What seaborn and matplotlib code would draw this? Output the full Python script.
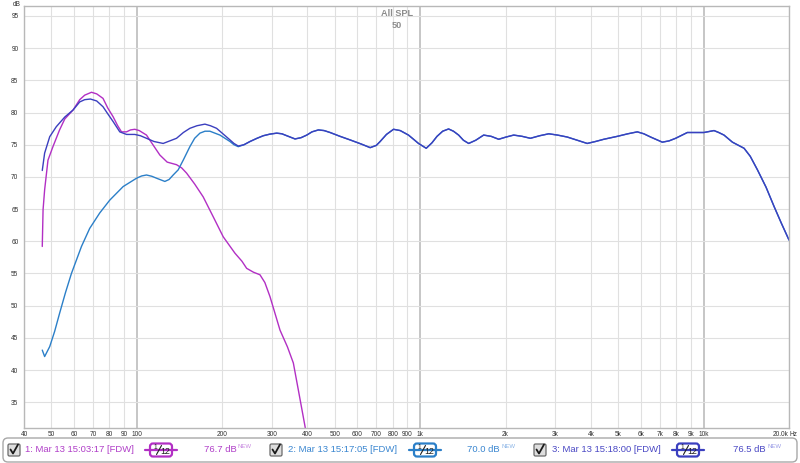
import matplotlib
matplotlib.use("Agg")
import matplotlib.pyplot as plt
import pandas as pd
import seaborn as sns
from matplotlib.patches import FancyBboxPatch

m1_freq = [46.4, 46.7, 47.3, 48.6, 50.6, 53.4, 55.7, 59.6, 62.9, 65.5, 69.2, 72.2, 76.0,
           79.0, 82.5, 85.5, 88.3, 92.0, 95.0, 98.4, 102.0, 108.2, 114.0, 120.6, 128.0,
           138.1, 144.0, 149.8, 160.0, 171.5, 186.1, 201.8, 222.0, 235.0, 244.1, 258.0,
           272.0, 283.0, 295.1, 320.1, 340.0, 356.7, 371.5, 392.4, 402.0]
m1_spl = [59.2, 64.9, 68.0, 72.6, 74.7, 77.3, 79.0, 80.4, 82.0, 82.7, 83.15, 82.9, 82.2,
          80.7, 79.35, 78.0, 77.0, 77.0, 77.3, 77.4, 77.2, 76.5, 75.0, 73.4, 72.3,
          71.9, 71.4, 70.6, 68.9, 66.9, 63.8, 60.7, 58.15, 56.9, 55.8, 55.2,
          54.8, 53.6, 51.4, 46.2, 43.6, 41.1, 36.9, 31.2, 28.3]

m2_freq = [46.4, 47.3, 49.3, 51.3, 53.4, 56.0, 58.8, 63.8, 68.2, 74.0, 80.3, 89.5, 99.8,
           104.0, 108.2, 113.0, 117.4, 125.6, 130.0, 134.4, 140.0, 145.8, 153.9, 160.0,
           167.0, 174.0, 181.1, 196.5, 213.2, 220.2, 228.0]
m2_spl = [43.1, 42.1, 43.65, 46.0, 48.8, 52.0, 55.0, 59.2, 62.0, 64.4, 66.4, 68.5, 69.8,
          70.15, 70.3, 70.1, 69.8, 69.3, 69.6, 70.3, 71.1, 72.6, 74.7, 76.0,
          76.8, 77.1, 77.1, 76.5, 75.5, 75.0, 74.7]

m3_freq = [46.4, 47.3, 49.3, 52.0, 55.7, 59.6, 62.9, 65.5, 68.6, 72.2, 76.0, 79.0, 82.5,
           87.1, 92.0, 98.4, 103.0, 108.2, 115.0, 123.9, 130.8, 138.1, 146.0, 153.9, 163.0,
           173.9, 182.0, 191.2, 201.3, 213.2, 220.2, 228.0, 238.8, 250.8, 265.5, 279.5,
           295.0, 311.7, 325.0, 338.1, 361.6, 380.0, 397.8, 415.0, 437.1, 458.0, 480.8,
           521.6, 565.6, 620.0, 665.8, 700.0, 722.0, 760.0, 805.0, 850.0, 909.0, 950.0,
           986.0, 1050, 1100, 1146, 1200, 1259, 1310, 1366, 1420, 1482, 1570, 1674, 1780,
           1891, 2010, 2137, 2290, 2447, 2640, 2841, 3050, 3299, 3580, 3882, 4150, 4444,
           4955, 5400, 5832, 6150, 6496, 7146, 7550, 7962, 8758, 9400, 10024, 10875, 11300,
           11795, 12630, 13884, 14600, 15478, 16600, 17719, 18800, 20000]
m3_spl = [71.0, 73.7, 76.25, 77.8, 79.3, 80.4, 81.65, 82.0, 82.1, 81.8, 80.9, 79.8, 78.6,
          77.0, 76.6, 76.6, 76.4, 76.0, 75.5, 75.2, 75.6, 76.0, 76.9, 77.55, 77.95,
          78.2, 77.95, 77.55, 76.7, 75.75, 75.2, 74.8, 75.0, 75.5, 76.0, 76.4,
          76.65, 76.8, 76.7, 76.4, 75.9, 76.1, 76.5, 77.0, 77.3, 77.2, 76.9,
          76.3, 75.75, 75.1, 74.55, 74.9, 75.5, 76.6, 77.4, 77.2, 76.5, 75.8,
          75.2, 74.45, 75.3, 76.3, 77.1, 77.45, 77.1, 76.5, 75.7, 75.2, 75.7, 76.5, 76.3,
          75.85, 76.2, 76.5, 76.3, 76.0, 76.4, 76.7, 76.5, 76.2, 75.7, 75.2, 75.5, 75.85,
          76.3, 76.7, 77.0, 76.7, 76.2, 75.4, 75.6, 76.0, 76.9, 76.9, 76.9, 77.2, 76.9,
          76.5, 75.4, 74.45, 73.2, 71.1, 68.4, 65.4, 62.8, 60.2]

names = ["1: Mar 13 15:03:17 [FDW]", "2: Mar 13 15:17:05 [FDW]", "3: Mar 13 15:18:00 [FDW]"]
averages = ["76.7 dB", "70.0 dB", "76.5 dB"]
colors = ["#b22fc4", "#2b7fc8", "#3b3fbf"]
text_colors = ["#b03ec8", "#3a86d0", "#4a48c4"]
new_colors = ["#c88ae0", "#8ab4e6", "#9a9ce6"]

x_ticks = [40, 50, 60, 70, 80, 90, 100, 200, 300, 400, 500, 600, 700, 800, 900,
           1000, 2000, 3000, 4000, 5000, 6000, 7000, 8000, 9000, 10000, 20000]
x_labels = ["40", "50", "60", "70", "80", "90", "100", "200", "300", "400", "500", "600",
            "700", "800", "900", "1k", "2k", "3k", "4k", "5k", "6k", "7k", "8k", "9k",
            "10k", "20.0k"]
y_ticks = list(range(35, 100, 5))

# blue curve sits under the navy one above ~230 Hz
m2_full_freq = m2_freq + [f for f in m3_freq if f > 230]
m2_full_spl = m2_spl + [s for f, s in zip(m3_freq, m3_spl) if f > 230]

df = pd.concat([
    pd.DataFrame({"freq": m1_freq, "spl": m1_spl, "curve": names[0]}),
    pd.DataFrame({"freq": m2_full_freq, "spl": m2_full_spl, "curve": names[1]}),
    pd.DataFrame({"freq": m3_freq, "spl": m3_spl, "curve": names[2]}),
])

sns.set_style("white")
plt.rcParams["font.family"] = ["Liberation Sans", "DejaVu Sans"]

fig = plt.figure(figsize=(8, 4.63), dpi=100)
ax = fig.add_axes([24 / 800, 1 - 428 / 463, 765 / 800, 422 / 463])

sns.lineplot(data=df, x="freq", y="spl", hue="curve", palette=colors, sort=True,
             linewidth=1.0, legend=False, ax=ax)

ax.set_xscale("log")
ax.set_xlim(40, 20000)
ax.set_ylim(31.0, 96.55)
ax.minorticks_off()
ax.set_xticks(x_ticks, x_labels)
ax.set_yticks(y_ticks, [str(v) for v in y_ticks])
ax.tick_params(axis="both", length=0, labelsize=4.7, colors="#303030")
ax.tick_params(axis="x", pad=2.5)
ax.tick_params(axis="y", pad=4)
ax.get_xticklabels()[-1].set_horizontalalignment("right")
ax.set_xlabel("")
ax.set_ylabel("")

for v in x_ticks:
    strong = v in (100, 1000, 10000)
    ax.axvline(v, color="#c6c6c6" if strong else "#e0e0e0", lw=1.4 if strong else 0.8, zorder=0)
for v in y_ticks:
    ax.axhline(v, color="#e0e0e0", lw=0.8, zorder=0)

for s in ax.spines.values():
    s.set_color("#b8b8b8")
    s.set_linewidth(1.0)

# overlay in pixel coordinates for the header and the legend strip
ov = fig.add_axes([0, 0, 1, 1], zorder=5)
ov.set_xlim(0, 800)
ov.set_ylim(463, 0)
ov.axis("off")
ov.patch.set_alpha(0)

ov.text(397, 13, "All SPL", ha="center", va="center", fontsize=6.6, weight="bold", color="#8c8c8c")
ov.text(397, 25, "50", ha="center", va="center", fontsize=6.6, weight="bold", color="#8c8c8c")
ov.text(17, 4, "dB", ha="center", va="center", fontsize=4.7, color="#303030")
ov.text(790, 434, "Hz", ha="left", va="center", fontsize=4.7, color="#303030")

ov.add_patch(FancyBboxPatch((3, 438), 794, 24, boxstyle="round,pad=0,rounding_size=5",
                            fc="white", ec="#a8a8a8", lw=1.0))

check_x = [14, 276, 540]
text_x = [25, 288, 552]
icon_x = [161, 425, 688]
val_x = [237, 500, 766]
row_y = 450
for i in range(3):
    cx = check_x[i]
    ov.add_patch(FancyBboxPatch((cx - 6, row_y - 6), 12, 12, boxstyle="round,pad=0,rounding_size=1.5",
                                fc="#dedede", ec="#6a6a6a", lw=0.9))
    ov.plot([cx - 3.5, cx - 1, cx + 4], [row_y - 0.5, row_y + 3.5, row_y - 5.5], color="#1a1a1a", lw=1.3,
            solid_capstyle="round")
    ov.text(text_x[i], row_y, names[i], ha="left", va="center", fontsize=6.8, color=text_colors[i])

    ix = icon_x[i]
    ov.plot([ix - 16, ix + 16], [row_y, row_y], color=colors[i], lw=1.6)
    ov.add_patch(FancyBboxPatch((ix - 11, row_y - 6.5), 22, 13, boxstyle="round,pad=0,rounding_size=3",
                                fc="white", ec=colors[i], lw=1.6))
    ov.text(ix - 6, row_y - 2.5, "1", ha="center", va="center", fontsize=4.8, color="#202020")
    ov.plot([ix - 4.5, ix + 0.5], [row_y + 4.5, row_y - 4.5], color="#202020", lw=0.8)
    ov.text(ix + 4.5, row_y + 1.5, "12", ha="center", va="center", fontsize=6.3, color="#202020")

    ov.text(val_x[i], row_y, averages[i], ha="right", va="center", fontsize=6.8, color=text_colors[i])
    ov.text(val_x[i] + 1, row_y - 4, "NEW", ha="left", va="center", fontsize=4.3, color=new_colors[i])

fig.savefig("out.png", dpi=100)
